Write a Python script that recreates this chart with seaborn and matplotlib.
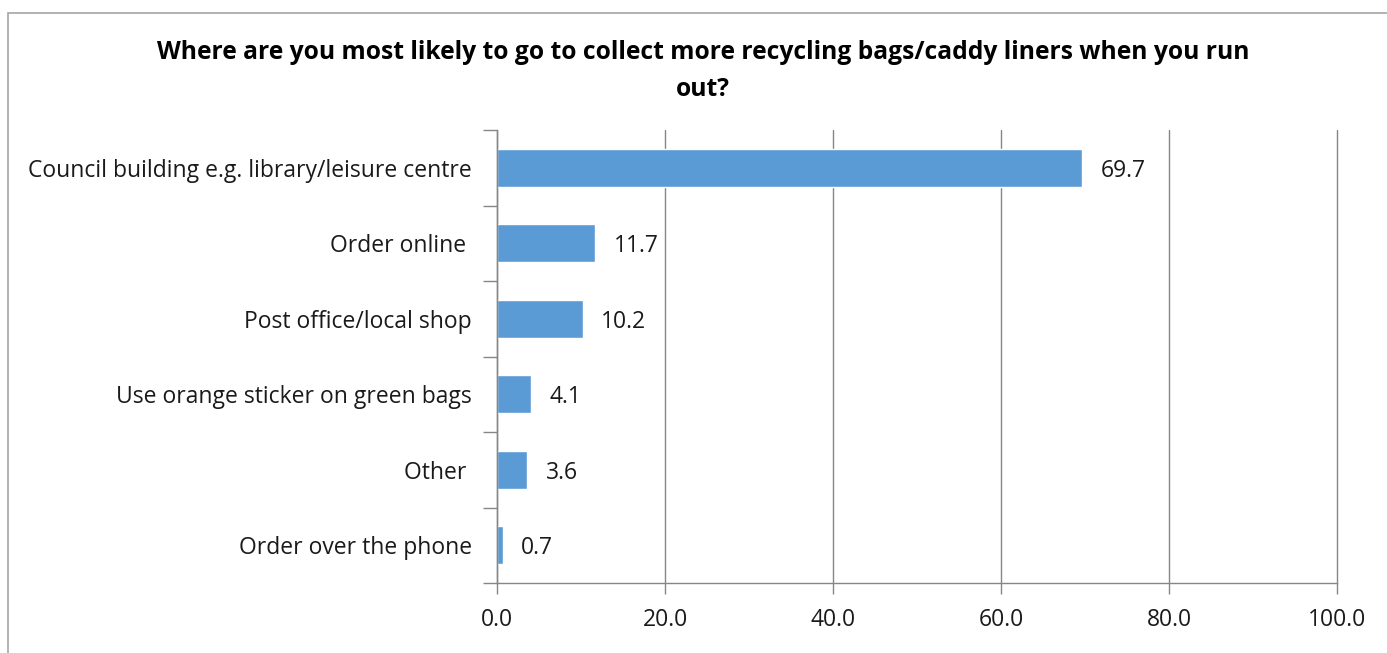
import matplotlib
matplotlib.use('Agg')
import matplotlib.pyplot as plt
import seaborn as sns
import pandas as pd
from matplotlib.patches import Rectangle

categories = ['Council building e.g. library/leisure centre', 'Order online ',
              'Post office/local shop', 'Use orange sticker on green bags',
              'Other ', 'Order over the phone']
values = [69.7, 11.7, 10.2, 4.1, 3.6, 0.7]
xticks = [0, 20, 40, 60, 80, 100]

df = pd.DataFrame({'place': categories, 'pct': values})

sns.set_theme(style='white')
plt.rcParams['font.family'] = ['Open Sans', 'DejaVu Sans']

fig = plt.figure(figsize=(13.87, 6.53), dpi=100)
ax = fig.add_axes([497 / 1387, 1 - 583 / 653, 840 / 1387, 453 / 653])

sns.barplot(data=df, x='pct', y='place', color='#5B9BD5', saturation=1,
            width=0.5, ax=ax)

grid_col = '#868686'
txt_col = '#1a1a1a'
ax.set_xlim(0, 100)
ax.set_ylim(5.5, -0.5)
ax.set_xticks(xticks)
ax.set_xticklabels([f'{t:.1f}' for t in xticks], fontsize=16.5, color=txt_col)
ax.xaxis.grid(True, color=grid_col, lw=1)
for gl in ax.get_xgridlines():
    gl.set_clip_on(False)
ax.set_axisbelow(True)
ax.set_xlabel('')
ax.set_ylabel('')

# category ticks between bars
ax.set_yticks([i + 0.5 for i in range(-1, 6)], minor=True)
ax.tick_params(axis='y', which='minor', length=10, width=1, color=grid_col, left=True)
ax.tick_params(axis='y', which='major', length=0, pad=18, labelsize=16.5, labelcolor=txt_col)
ax.tick_params(axis='x', length=8, width=1, color=grid_col, bottom=True, pad=10)

for s in ['top', 'right']:
    ax.spines[s].set_visible(False)
for s in ['left', 'bottom']:
    ax.spines[s].set_color(grid_col)
    ax.spines[s].set_linewidth(1)

for i, v in enumerate(values):
    ax.text(v + 2.2, i + 0.04, f'{v:.1f}', va='center', ha='left', fontsize=16.5, color=txt_col)

fig.text(0.507, 1 - 71 / 653,
         'Where are you most likely to go to collect more recycling bags/caddy liners when you run\nout?',
         ha='center', va='center', fontsize=17.7, fontweight='bold', linespacing=1.6,
         color='black')

fig.patches.append(Rectangle((8 / 1387, -0.1), 1.2, 1 - 13 / 653 + 0.1,
                             transform=fig.transFigure, fill=False,
                             edgecolor='#a6a6a6', lw=1.2))

fig.savefig('out.png', dpi=100)
